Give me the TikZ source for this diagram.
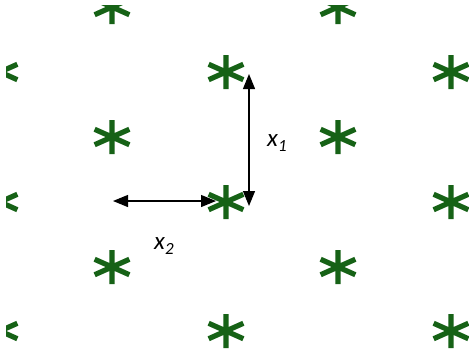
\documentclass[tikz,border=0pt]{standalone}
\usepackage{fontspec}
\setmainfont{Carlito}
\usetikzlibrary{arrows.meta}
\definecolor{astgreen}{RGB}{22,98,22}
\tikzset{
  astline/.style={draw=astgreen,line width=5.2pt},
  ast/.pic={\path[astline] (0,-17)--(0,17) (24:19)--(204:19) (-24:19)--(156:19);},
  dblarrow/.style={draw=black,line width=1.2pt,{Triangle[length=15pt,width=12pt]}-{Triangle[length=15pt,width=12pt]}},
  lbl/.style={inner sep=0pt,anchor=base west,font=\fontsize{25}{25}\selectfont\itshape}
}
\newcommand{\subnum}[1]{\raisebox{-0.22em}{\fontsize{17}{17}\selectfont #1}}
\begin{document}
\begin{tikzpicture}[x=1pt,y=-1pt]
\fill[white] (0,0) rectangle (469,351);
\useasboundingbox (0,0) rectangle (469,351);
\begin{scope}
\clip (6,5) rectangle (469,351);
\foreach \yy in {72,202,331} {
  \foreach \xx in {0,226,451} { \pic at (\xx,\yy) {ast}; }
}
\foreach \yy in {7,137,267} {
  \foreach \xx in {112,338} { \pic at (\xx,\yy) {ast}; }
}
\end{scope}
\coordinate (vb) at (249,206);
\coordinate (vt) at (249,74);
\coordinate (hl) at (113,201);
\coordinate (hr) at (216,201);
\draw[dblarrow] (vb) -- (vt);
\draw[dblarrow] (hl) -- (hr);
\node[lbl] (x1) at (267,146) {x\subnum{1}};
\node[lbl] (x2) at (154,249) {x\subnum{2}};
\end{tikzpicture}
\end{document}
